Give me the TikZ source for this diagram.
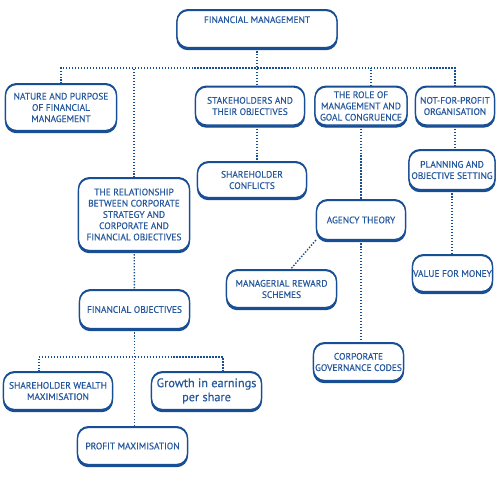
\documentclass[tikz,border=0pt]{standalone}
\usepackage{fontspec}
\setmainfont{PT Sans}
\newfontfamily\boxfont{PT Sans}[FakeBold=0.35]
\usetikzlibrary{shadows}
\definecolor{fmblue}{RGB}{24,78,148}
\definecolor{fmtext}{RGB}{38,88,158}
\begin{document}
\begin{tikzpicture}[
	topic/.style={draw=fmblue, line width=0.7pt, fill=white, rounded corners=2.2mm, align=center, text=fmtext,
		font=\boxfont\fontsize{5.35}{6.4}\selectfont, inner sep=0pt,
		copy shadow={shadow xshift=0pt, shadow yshift=-1.2pt, draw=fmblue, fill=fmblue},
		copy shadow={shadow xshift=0pt, shadow yshift=0.5pt, draw=fmblue, fill=fmblue}},
	link/.style={draw=fmblue, line width=0.8pt, dash pattern=on 0.8pt off 0.9pt}
]
				\useasboundingbox (0,0) rectangle (10,-9.64);
				\node (fm) [topic, minimum width=3.2cm, minimum height=0.74cm] at (5.14,-0.58) {FINANCIAL MANAGEMENT\\[1.5mm]\mbox{}};
				\node (nature) [topic, minimum width=2.22cm, minimum height=0.92cm] at (1.22,-2.15) {NATURE AND PURPOSE\\OF FINANCIAL\\MANAGEMENT};
				\node (stake) [topic, minimum width=2.18cm, minimum height=0.76cm] at (5.00,-2.12) {STAKEHOLDERS AND\\THEIR OBJECTIVES};
				\node (role) [topic, minimum width=1.84cm, minimum height=0.76cm] at (7.22,-2.12) {THE ROLE OF\\MANAGEMENT AND\\GOAL CONGRUENCE};
				\node (nfp) [topic, minimum width=1.58cm, minimum height=0.76cm] at (9.10,-2.12) {NOT-FOR-PROFIT\\ORGANISATION};
				\node (plan) [topic, minimum width=1.72cm, minimum height=0.78cm] at (9.04,-3.40) {PLANNING AND\\OBJECTIVE SETTING};
				\node (conflicts) [topic, minimum width=2.18cm, minimum height=0.70cm] at (5.04,-3.60) {SHAREHOLDER\\CONFLICTS};
				\node (relation) [topic, minimum width=2.22cm, minimum height=1.44cm] at (2.68,-4.29) {THE RELATIONSHIP\\BETWEEN CORPORATE\\STRATEGY AND\\CORPORATE AND\\FINANCIAL OBJECTIVES};
				\node (finobj) [topic, minimum width=2.20cm, minimum height=0.76cm] at (2.69,-6.19) {FINANCIAL OBJECTIVES};
				\node (agency) [topic, minimum width=1.78cm, minimum height=0.78cm] at (7.22,-4.40) {AGENCY THEORY};
				\node (reward) [topic, minimum width=2.20cm, minimum height=0.74cm] at (5.63,-5.78) {MANAGERIAL REWARD\\SCHEMES};
				\node (vfm) [topic, minimum width=1.60cm, minimum height=0.72cm] at (9.05,-5.47) {VALUE FOR MONEY};
				\node (gov) [topic, minimum width=1.80cm, minimum height=0.74cm] at (7.17,-7.24) {CORPORATE\\GOVERNANCE CODES};
				\node (wealth) [topic, minimum width=2.18cm, minimum height=0.74cm] at (1.16,-7.82) {SHAREHOLDER WEALTH\\MAXIMISATION};
				\node (growth) [topic, minimum width=2.20cm, minimum height=0.74cm, font=\boxfont\fontsize{7}{8}\selectfont] at (4.13,-7.82) {Growth in earnings\\per share};
				\node (profit) [topic, minimum width=2.20cm, minimum height=0.74cm] at (2.65,-8.92) {PROFIT MAXIMISATION};

				\coordinate (bus) at (0,-1.36);
				\coordinate (lb) at (0.78,-7.14);
				\coordinate (rb) at (4.46,-7.14);

				\draw[link] (nature.north) -- (nature.north |- bus) -- (nfp.north |- bus) -- (nfp.north);
				\draw[link] (fm.south) -- (fm.south |- stake.north);
				\draw[link] (relation.north) -- (relation.north |- bus);
				\draw[link] ([xshift=0.2cm]role.north) -- ([xshift=0.2cm]role.north |- bus);
				\draw[link] (fm.south |- stake.south) -- (fm.south |- conflicts.north);
				\draw[link] (role) -- (agency);
				\draw[link] (agency.south) -- (agency.south |- gov.north);
				\draw[link] (agency.south west) -- ([xshift=0.17cm]reward.north);
				\draw[link] (nfp.south) -- (nfp.south |- plan.north);
				\draw[link] (plan.south) -- (plan.south |- vfm.north);
				\draw[link] (relation) -- (finobj);
				\draw[link] (finobj.south) -- (finobj.south |- profit.north);
				\draw[link] (wealth.north -| lb) -- (lb) -- (rb) -- (growth.north -| rb);
			\end{tikzpicture}
\end{document}
